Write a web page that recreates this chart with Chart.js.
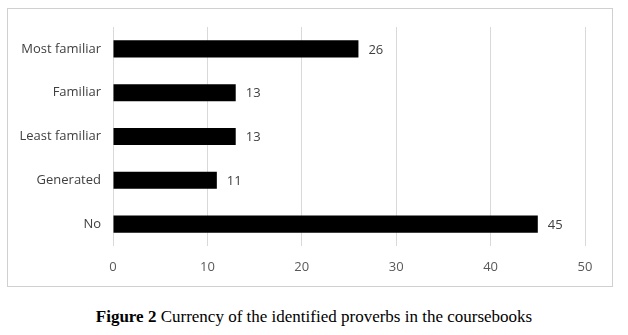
<!DOCTYPE html>
<html>
<head>
<meta charset="utf-8">
<script src="https://cdn.jsdelivr.net/npm/chart.js@4.4.0/dist/chart.umd.min.js"></script>
<style>
  body { margin: 0; background: #fff; width: 628px; height: 335px; position: relative; overflow: hidden; }
  #frame { position: absolute; left: 7px; top: 8px; width: 606px; height: 279px; box-sizing: border-box; border: 1px solid #d0d0d0; }
  #wrap { position: absolute; left: 0; top: 0; width: 628px; height: 290px; }
  #caption { position: absolute; left: 0; top: 307px; width: 628px; text-align: center;
    font-family: "Liberation Serif", "Times New Roman", serif; font-size: 17px; color: #000; }
</style>
</head>
<body>
<div id="frame"></div>
<div id="wrap"><canvas id="chart"></canvas></div>
<div id="caption"><b>Figure 2</b> Currency of the identified proverbs in the coursebooks</div>
<script>
const categories = ['Most familiar', 'Familiar', 'Least familiar', 'Generated', 'No'];
const counts = [26, 13, 13, 11, 45];
const xTicks = [0, 10, 20, 30, 40, 50];

// value labels at the end of each bar
const barLabels = {
    id: 'barLabels',
    afterDatasetsDraw(chart) {
        const ctx = chart.ctx;
        const meta = chart.getDatasetMeta(0);
        ctx.save();
        ctx.font = '13px "Open Sans"';
        ctx.fillStyle = '#404040';
        ctx.textAlign = 'left';
        ctx.textBaseline = 'middle';
        meta.data.forEach((bar, i) => {
            ctx.fillText(String(counts[i]), bar.x + 10, bar.y + 1);
        });
        ctx.restore();
    }
};

new Chart(document.getElementById('chart').getContext('2d'), {
    type: 'bar',
    data: {
        labels: categories,
        datasets: [{
            data: counts,
            backgroundColor: '#000000',
            borderWidth: 0,
            barPercentage: 0.78,
            categoryPercentage: 0.5
        }]
    },
    options: {
        indexAxis: 'y',
        responsive: true,
        maintainAspectRatio: false,
        animation: false,
        layout: { padding: { top: 27, right: 43, left: 0, bottom: 0 } },
        plugins: { legend: { display: false }, tooltip: { enabled: false } },
        scales: {
            x: {
                min: 0,
                max: 50,
                afterBuildTicks: axis => { axis.ticks = xTicks.map(v => ({ value: v })); },
                afterFit: axis => { axis.height = 44; },
                grid: { color: '#d9d9d9', lineWidth: 1, drawTicks: false },
                border: { display: false },
                ticks: { padding: 13, color: '#595959', font: { family: 'Open Sans', size: 13 } }
            },
            y: {
                afterFit: axis => { axis.width = 113; },
                grid: { display: false },
                border: { display: false },
                ticks: { padding: 4, color: '#404040', font: { family: 'Open Sans', size: 13 } }
            }
        }
    },
    plugins: [barLabels]
});
</script>
</body>
</html>
